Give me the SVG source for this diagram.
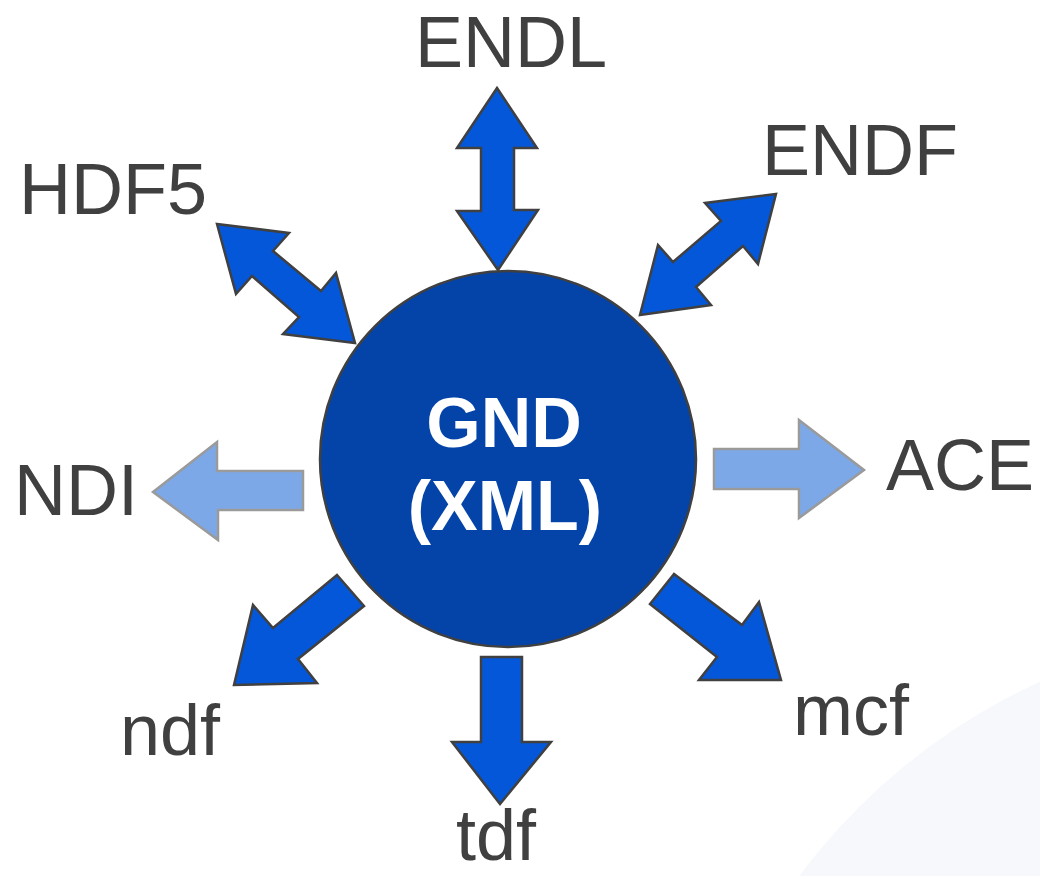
<svg xmlns="http://www.w3.org/2000/svg" width="1040" height="876" viewBox="0 0 1040 876">
<style>
.lbl{font-family:"Liberation Sans",Arial,sans-serif;font-size:72px;fill:#404040}
.ctr{font-family:"Liberation Sans",Arial,sans-serif;font-size:70px;font-weight:bold;fill:#ffffff}
.dark{fill:#0457D8;stroke:#404040;stroke-width:2.5;stroke-linejoin:miter}
.light{fill:#7CA8E8;stroke:#9A9A9A;stroke-width:2.5;stroke-linejoin:miter}
</style>
<rect width="1040" height="876" fill="#ffffff"/>
<circle cx="1300" cy="1250" r="625" fill="#F6F8FC"/>
<g id="connectors">
<polygon class="dark" points="217,224 289,233 273,251 321,291 336,273 355,343 283,334 299,317 252,276 236,294"/>
<polygon class="dark" points="776,194 758,264 743,246 696,287 711,305 640,315 658,245 673,262 721,221 705,203"/>
<polygon class="dark" points="497,88 537,148 514,148 514,210 538,210 498,270 457,211 481,211 481,148 457,148"/>
<polygon class="light" points="714,449 799,449 799,420 864,470 799,518 799,489 714,489"/>
<polygon class="light" points="153,492 217,442 217,471 303,471 303,510 218,510 218,540"/>
<polygon class="dark" points="337,575 364,606 298,659 317,683 234,685 253,605 273,628"/>
<polygon class="dark" points="674,574 650,604 717,657 699,680 781,680 759,602 742,625"/>
<polygon class="dark" points="481,657 522,657 522,742 551,742 500,804 452,742 481,742"/>
</g>
<g id="gnd">
<circle cx="508" cy="459" r="188" fill="#0443A8" stroke="#404040" stroke-width="2.5"/>
<text class="ctr" x="504" y="447" text-anchor="middle">GND</text>
<text class="ctr" x="505" y="530" text-anchor="middle">(XML)</text>
</g>
<g id="endl"><text class="lbl" x="511" y="67" text-anchor="middle">ENDL</text></g>
<g id="hdf5"><text class="lbl" x="113" y="214" text-anchor="middle">HDF5</text></g>
<g id="endf"><text class="lbl" x="860" y="175" text-anchor="middle">ENDF</text></g>
<g id="ndi"><text class="lbl" x="76" y="515" text-anchor="middle">NDI</text></g>
<g id="ace"><text class="lbl" x="960" y="490" text-anchor="middle">ACE</text></g>
<g id="ndf"><text class="lbl" x="170" y="755" text-anchor="middle">ndf</text></g>
<g id="mcf"><text class="lbl" x="851" y="735" text-anchor="middle">mcf</text></g>
<g id="tdf"><text class="lbl" x="496" y="860" text-anchor="middle">tdf</text></g>
</svg>
